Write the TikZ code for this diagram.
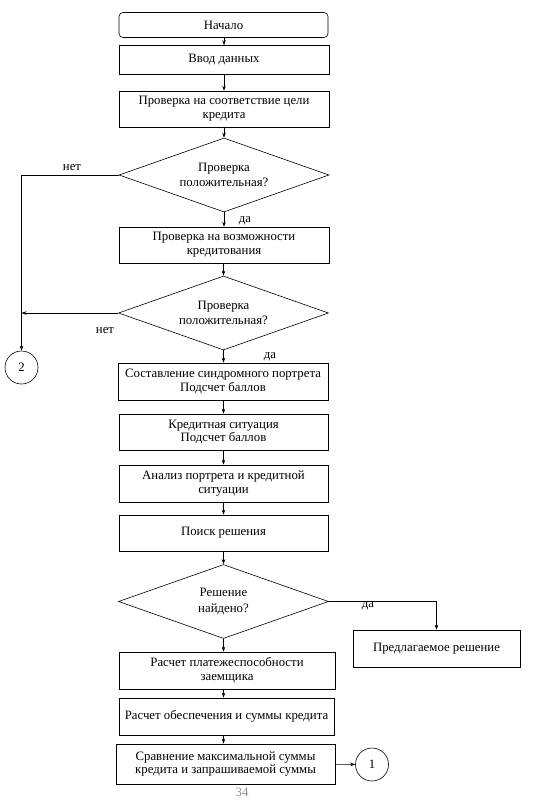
\documentclass[tikz,border=0pt]{standalone}
\usepackage{fontspec}
\setmainfont{Liberation Serif}
\usetikzlibrary{shapes.geometric,arrows.meta}
\tikzset{
	khoi/.style={draw,line width=0.6pt,align=center,inner sep=1pt,font=\fontsize{12.8}{13.8}\selectfont},
	thoi/.style={draw,diamond,line width=0.6pt,align=center,inner sep=0pt,shape aspect=2.84,minimum width=210pt,minimum height=74pt,font=\fontsize{12.8}{15.5}\selectfont},
	tron/.style={draw,circle,line width=0.6pt,minimum size=33pt,inner sep=0pt,font=\fontsize{12.8}{14}\selectfont},
	nhan/.style={inner sep=0pt,font=\fontsize{12.8}{14}\selectfont},
	noi/.style={->,line width=0.6pt}
}
\begin{document}
\begin{tikzpicture}[x=1pt,y=-1pt,>={Stealth[length=5pt,width=3.5pt]}]
	\useasboundingbox (0,0) rectangle (543,807);
	%Khoi 1
	\node[khoi,rounded corners=4pt,minimum width=209pt,minimum height=25pt] (start) at (223.5,25) {Начало};
	\node[khoi,minimum width=210pt,minimum height=29pt] (input) at (224,60) {Ввод данных};
	\node[khoi,minimum width=210pt,minimum height=36pt] (goal) at (224,109) {Проверка на соответствие цели\\кредита};
	%Kiem tra 1
	\node[thoi] (check1) at (224,175) {Проверка\\положительная?};
	\node[khoi,minimum width=210pt,minimum height=36pt] (ability) at (224,245) {Проверка на возможности\\кредитования};
	%Kiem tra 2
	\node[thoi] (check2) at (223.5,313) {Проверка\\положительная?};
	\node[tron] (conn2) at (21.5,367.5) {2};
	%Khoi 2
	\node[khoi,minimum width=210pt,minimum height=37pt] (portrait) at (223,381.5) {Составление синдромного портрета\\Подсчет баллов};
	\node[khoi,minimum width=209pt,minimum height=36pt] (situation) at (223.5,432) {Кредитная ситуация\\Подсчет баллов};
	\node[khoi,minimum width=209pt,minimum height=37pt] (analysis) at (223.5,483.5) {Анализ портрета и кредитной\\ситуации};
	\node[khoi,minimum width=209pt,minimum height=36pt] (search) at (223.5,533) {Поиск решения};
	%Kiem tra 3
	\node[thoi] (found) at (223.5,601.5) {Решение\\найдено?};
	\node[khoi,minimum width=167pt,minimum height=37pt] (offer) at (436.5,648.5) {Предлагаемое решение};
	%Khoi 3
	\node[khoi,minimum width=216pt,minimum height=37pt] (solvency) at (227,670.5) {Расчет платежеспособности\\заемщика};
	\node[khoi,minimum width=215pt,minimum height=37pt] (security) at (226.5,716.5) {Расчет обеспечения и суммы кредита};
	\node[khoi,minimum width=219pt,minimum height=40pt] (compare) at (225.5,764) {Сравнение максимальной суммы\\кредита и запрашиваемой суммы};
	\node[tron] (conn1) at (372,764.5) {1};
	%Nhan
	\node[nhan] (no1) at (72,168) {нет};
	\node[nhan] (yes1) at (245,221) {да};
	\node[nhan] (no2) at (105,331) {нет};
	\node[nhan] (yes2) at (270,357) {да};
	\node[nhan] (yes3) at (368,606) {да};
	\node[nhan,text=black!45] (page) at (242,792) {34};
	%Mui ten
	\draw[noi] (start.south -| input) -- (input.north);
	\draw[noi] (input) -- (goal);
	\draw[noi] (goal) -- (check1);
	\draw[noi] (check1) -- (ability);
	\draw[noi] (ability.south -| check2) -- (check2.north);
	\draw[noi] (check2) -- (portrait.north -| check2);
	\draw[noi] (portrait.south -| check2) -- (situation.north -| check2);
	\draw[noi] (situation) -- (analysis);
	\draw[noi] (analysis) -- (search);
	\draw[noi] (search) -- (found);
	\draw[noi] (found.south) -- (solvency.north -| found);
	\draw[noi] (solvency.south -| found) -- (security.north -| found);
	\draw[noi] (security.south -| found) -- (compare.north -| found);
	\draw[noi] (compare) -- (conn1);
	\draw[noi] (check1.west) -| (conn2.north);
	\draw[noi] (check2.west) -- (check2.west -| conn2);
	\draw[noi] (found.east) -| (offer.north);
\end{tikzpicture}
\end{document}
